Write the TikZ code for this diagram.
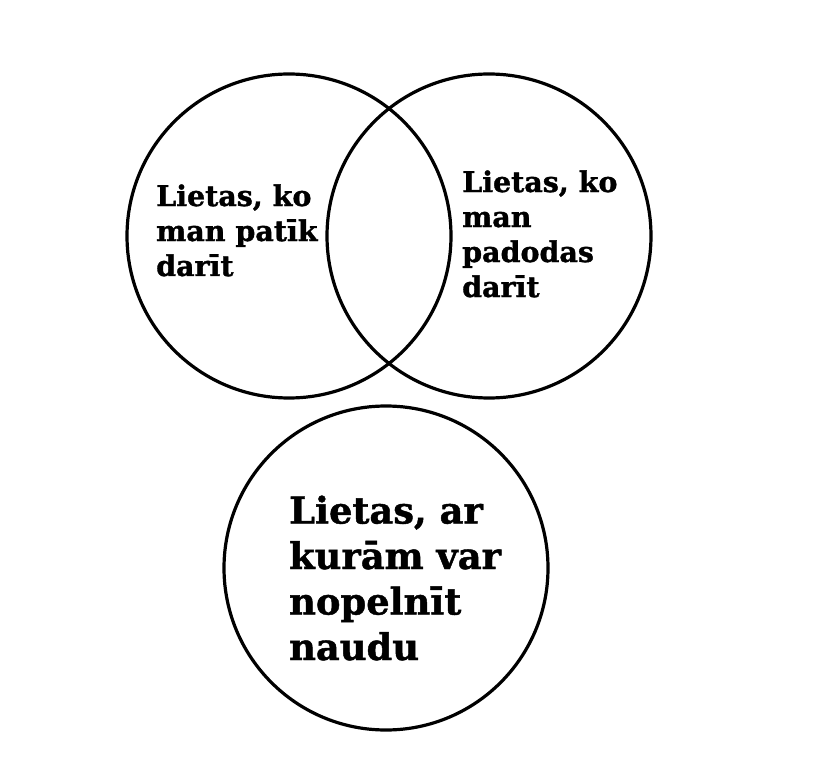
\documentclass[tikz,border=0pt]{standalone}
\usepackage{fontspec}
\setmainfont{DejaVu Serif}[BoldFeatures={FakeBold=1.2}]
\usepackage{tikz}
\usepackage{tkz-euclide}
\usetikzlibrary{calc}

\tikzset{
  kopa/.style={line width=3.2pt},
  teksts/.style={inner sep=0pt, align=left, font=\fontsize{28.5}{35}\selectfont\bfseries},
  lielsteksts/.style={inner sep=0pt, align=left, font=\fontsize{36.8}{45.5}\selectfont\bfseries}
}

\begin{document}
\begin{tikzpicture}[x=1pt,y=-1pt]
			\path[fill=white,use as bounding box] (0,0) rectangle (830,770);
			\tkzDefPoints{289/236/A,489/236/B,386/568/C}
			\draw[kopa] (A) circle[radius=162];
			\draw[kopa] (B) circle[radius=162];
			\draw[kopa] (C) circle[radius=162];
			\node[teksts,anchor=base west] (patik) at (156,276) {Lietas, ko\\man patīk\\darīt};
			\node[teksts,anchor=base west] (padodas) at (462,297) {Lietas, ko\\man\\padodas\\darīt};
			\node[lielsteksts,anchor=base west] (naudu) at (289,660) {Lietas, ar\\kurām var\\nopelnīt\\naudu};
		\end{tikzpicture}
\end{document}
